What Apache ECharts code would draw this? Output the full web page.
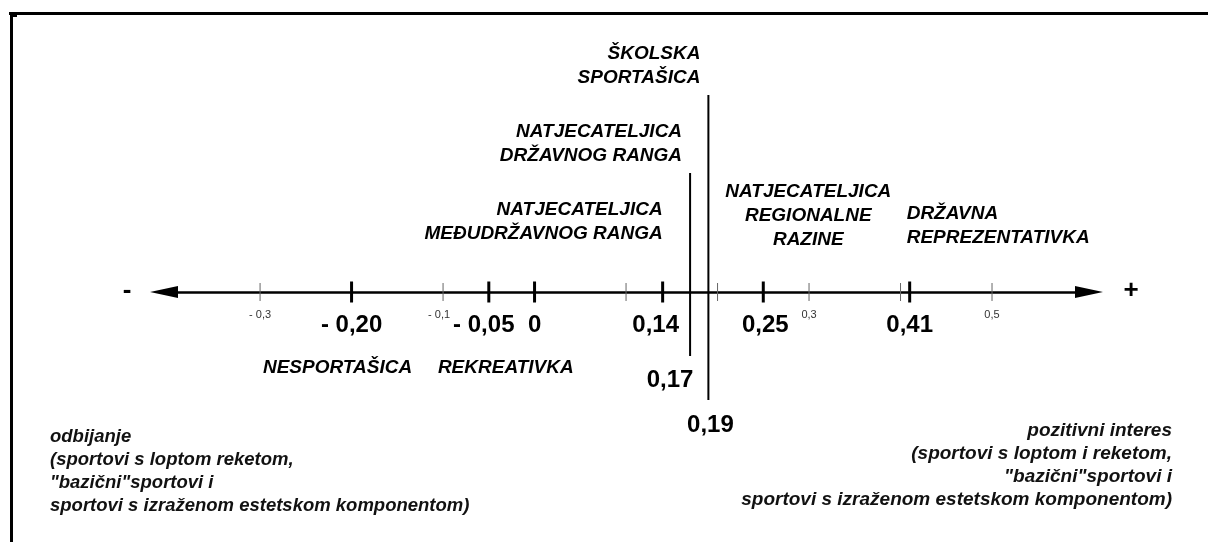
<!DOCTYPE html>
<html>
<head>
<meta charset="utf-8">
<script src="https://cdn.jsdelivr.net/npm/echarts@6/dist/echarts.min.js"></script>
<style>
  html, body { margin: 0; padding: 0; background: #fff; }
  #chart { width: 1208px; height: 542px; }
</style>
</head>
<body>
<div id="chart"></div>
<script>
// vrijednosti na osi
const majorValues = [-0.20, -0.05, 0, 0.14, 0.25, 0.41];
const majorLabels = ['- 0,20', '- 0,05', '0', '0,14', '0,25', '0,41'];
const minorValues = [-0.3, -0.1, 0.1, 0.2, 0.3, 0.4, 0.5];
const minorLabels = ['- 0,3', '- 0,1', '', '', '0,3', '', '0,5'];
const markerValues = [0.17, 0.19];
const markerLabels = ['0,17', '0,19'];
const groupValues = [-0.20, -0.05, 0.14, 0.17, 0.19, 0.25, 0.41];
const groupNames = [
  'NESPORTAŠICA',
  'REKREATIVKA',
  'NATJECATELJICA\nMEĐUDRŽAVNOG RANGA',
  'NATJECATELJICA\nDRŽAVNOG RANGA',
  'ŠKOLSKA\nSPORTAŠICA',
  'NATJECATELJICA\nREGIONALNE\nRAZINE',
  'DRŽAVNA\nREPREZENTATIVKA'
];
const leftNote = 'odbijanje\n(sportovi s loptom reketom,\n"bazični"sportovi i\nsportovi s izraženom estetskom komponentom)';
const rightNote = 'pozitivni interes\n(sportovi s loptom i reketom,\n"bazični"sportovi i\nsportovi s izraženom estetskom komponentom)';

const AXIS_MIN = -0.405;
const AXIS_MAX = 0.606;
const FONT = '"Liberation Sans", Arial, sans-serif';

// polozaj natpisa: [dx, dy, align, verticalAlign] u pikselima od tocke na osi
const majorLayout = [[0, 33], [-5, 33], [0, 33], [-7, 33], [2, 33], [0, 33]];
const minorLayout = [[0, 23], [-4, 23], [0, 23], [0, 23], [0, 23], [0, 23], [0, 23]];
const markerLayout = [[-20, 88], [2, 133]];
const markerLine = [[183, -27.5], [305, -44.5]]; // duljina, pomak sredine
const groupLayout = [
  [-14, 64, 'center'],
  [17, 64, 'center'],
  [0, -94, 'right'],
  [-8, -172, 'right'],
  [-8, -250, 'right'],
  [45, -112, 'center'],
  [-3, -90, 'left']
];

function textSeries(values, labels, layout, style) {
  const labelStyle = Object.assign({
    show: true, position: 'inside', formatter: '{b}',
    color: '#000', opacity: 1, fontFamily: FONT
  }, style);
  return {
    type: 'scatter',
    symbolSize: 0,
    silent: true,
    z: 5,
    itemStyle: { opacity: 1 },
    data: values.map((v, i) => ({
      name: labels[i],
      value: [v, 0],
      label: Object.assign({}, labelStyle, {
        offset: [layout[i][0], layout[i][1]],
        align: layout[i][2] || 'center',
        verticalAlign: 'middle'
      })
    })),
    label: labelStyle
  };
}

const chart = echarts.init(document.getElementById('chart'));

chart.setOption({
  backgroundColor: '#fff',
  animation: false,
  grid: { left: 164, right: 119, top: 0, bottom: 0 },
  xAxis: {
    type: 'value',
    min: AXIS_MIN,
    max: AXIS_MAX,
    axisLine: {
      onZero: true,
      symbol: ['triangle', 'triangle'],
      symbolSize: [12, 28],
      lineStyle: { color: '#000', width: 2.5 }
    },
    axisTick: { show: false },
    axisLabel: { show: false },
    splitLine: { show: false }
  },
  yAxis: {
    type: 'value',
    min: -250,
    max: 292,
    show: false
  },
  series: [
    {
      type: 'scatter',
      symbol: 'rect',
      symbolSize: [1, 18],
      itemStyle: { color: '#666', opacity: 1 },
      silent: true,
      data: minorValues.map(v => [v, 0])
    },
    {
      type: 'scatter',
      symbol: 'rect',
      symbolSize: [3, 21],
      itemStyle: { color: '#000', opacity: 1 },
      silent: true,
      data: majorValues.map(v => [v, 0])
    },
    {
      type: 'scatter',
      symbol: 'rect',
      itemStyle: { color: '#000', opacity: 1 },
      silent: true,
      data: markerValues.map((v, i) => ({
        value: [v, 0],
        symbolSize: [2, markerLine[i][0]],
        symbolOffset: [0, markerLine[i][1]]
      }))
    },
    textSeries(minorValues, minorLabels, minorLayout, { fontSize: 11, color: '#333' }),
    textSeries(majorValues, majorLabels, majorLayout, { fontSize: 24, fontWeight: 'bold' }),
    textSeries(markerValues, markerLabels, markerLayout, { fontSize: 24, fontWeight: 'bold' }),
    textSeries([AXIS_MIN, AXIS_MAX], ['-', '+'], [[-37, -1], [42, -1]],
      { fontSize: 26, fontWeight: 'bold' })
  ]
});

// natpisi skupina (kurziv) - smjesteni prema vrijednosti na osi
const groupText = groupValues.map((v, i) => {
  const p = chart.convertToPixel({ gridIndex: 0 }, [v, 0]);
  return {
    type: 'text',
    x: p[0] + groupLayout[i][0],
    y: p[1] + groupLayout[i][1],
    z: 10,
    style: {
      text: groupNames[i],
      font: 'italic bold 19px ' + FONT,
      lineHeight: 24,
      fill: '#000',
      align: groupLayout[i][2],
      textAlign: groupLayout[i][2],
      verticalAlign: 'top'
    }
  };
});

chart.setOption({
  graphic: [
    { type: 'rect', shape: { x: 9, y: 12, width: 1199, height: 3 }, style: { fill: '#000' } },
    { type: 'rect', shape: { x: 10, y: 12, width: 3, height: 530 }, style: { fill: '#000' } },
    { type: 'rect', shape: { x: 12, y: 15, width: 5, height: 2 }, style: { fill: '#000' } },
    {
      type: 'text', x: 50, y: 425,
      style: { text: leftNote, font: 'italic bold 18.5px ' + FONT, lineHeight: 23, fill: '#111' }
    },
    {
      type: 'text', x: 1172, y: 419,
      style: {
        text: rightNote, font: 'italic bold 19px ' + FONT, lineHeight: 23, fill: '#111',
        align: 'right', textAlign: 'right'
      }
    }
  ].concat(groupText)
});
</script>
</body>
</html>
